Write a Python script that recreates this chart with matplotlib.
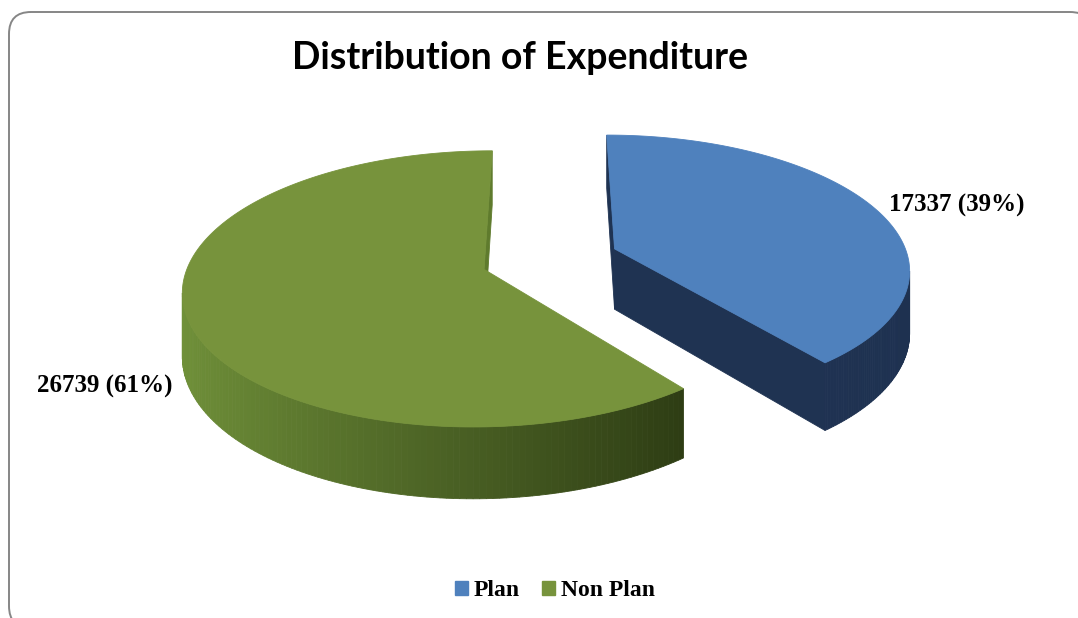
import numpy as np
import matplotlib.pyplot as plt
from matplotlib.patches import Polygon, FancyBboxPatch, Patch

# Expenditure split
labels = ['Plan', 'Non Plan']
values = [17337, 26739]
top_colors = ['#4f81bd', '#77933c']
wall_light = ['#22385a', '#71923a']
wall_dark = ['#1e3150', '#1e290b']
cut_colors = ['#1f3352', '#5f7b2d']
label_pos = [(957, 205), (105, 386)]

W, H = 1078, 618

# 3D pie projection (pixel units)
X0, Y0 = 550, 259
RX, RY = 294, 132.4
PERSP = 0.14
DEPTH = 61
EXPLODE = 0.235


def project(x, z, bottom=False):
    x = np.asarray(x, dtype=float)
    z = np.asarray(z, dtype=float)
    s = 1.0 / (1.0 + PERSP * z)
    px = X0 + RX * x * s
    py = Y0 - RY * z * s
    if bottom:
        py = py + DEPTH * s
    return px, py


def signed_area(pts):
    x, y = pts[:, 0], pts[:, 1]
    return 0.5 * np.sum(x * np.roll(y, -1) - np.roll(x, -1) * y)


def mix(c1, c2, t):
    a = np.array(plt.matplotlib.colors.to_rgb(c1))
    b = np.array(plt.matplotlib.colors.to_rgb(c2))
    return tuple(a + (b - a) * np.clip(t, 0, 1))


def wall(ax, A, B, color):
    # vertical face with top edge A->B; drawn only if facing the viewer
    ax_, az_ = A
    bx_, bz_ = B
    p1 = project(ax_, az_)
    p2 = project(bx_, bz_)
    p3 = project(bx_, bz_, bottom=True)
    p4 = project(ax_, az_, bottom=True)
    pts = np.array([p1, p2, p3, p4])
    if signed_area(pts) >= 0:
        return
    ax.add_patch(Polygon(pts, closed=True, facecolor=color, edgecolor=color, lw=0.6))


fig = plt.figure(figsize=(W / 100, H / 100), dpi=100)
ax = fig.add_axes([0, 0, 1, 1])
ax.set_xlim(0, W)
ax.set_ylim(H, 0)
ax.axis('off')

# chart border
ax.add_patch(FancyBboxPatch((9, 12), 1083, 616, boxstyle='round,pad=0,rounding_size=22',
                            facecolor='white', edgecolor='#868686', lw=1.4))

fracs = np.array(values) / np.sum(values)
bounds = np.concatenate([[0], np.cumsum(fracs)]) * 2 * np.pi

slices = []
for i in range(len(values)):
    a, b = bounds[i], bounds[i + 1]
    mid = (a + b) / 2
    ox, oz = EXPLODE * np.sin(mid), EXPLODE * np.cos(mid)
    slices.append((i, a, b, ox, oz))

# far slices first
for i, a, b, ox, oz in sorted(slices, key=lambda s: -s[4]):
    t = np.linspace(a, b, 200)
    ex, ez = ox + np.sin(t), oz + np.cos(t)

    def shade(nx):
        return mix(wall_light[i], wall_dark[i], (nx + 1) / 2)

    # radial (cut) walls
    wall(ax, (ox, oz), (ox + np.sin(a), oz + np.cos(a)), cut_colors[i])
    wall(ax, (ox + np.sin(b), oz + np.cos(b)), (ox, oz), cut_colors[i])
    # outer curved wall
    for k in range(len(t) - 1):
        tm = (t[k] + t[k + 1]) / 2
        wall(ax, (ex[k], ez[k]), (ex[k + 1], ez[k + 1]), shade(np.sin(tm)))

    # top face
    px, py = project(np.concatenate([[ox], ex]), np.concatenate([[oz], ez]))
    ax.add_patch(Polygon(np.column_stack([px, py]), closed=True,
                         facecolor=top_colors[i], edgecolor=top_colors[i], lw=0.6))

# data labels
for v, f, (lx, ly) in zip(values, fracs, label_pos):
    ax.text(lx, ly, f'{v} ({f:.0%})', ha='center', va='center',
            family='Liberation Serif', weight='bold', fontsize=18, color='black')

ax.text(520, 58, 'Distribution of Expenditure', ha='center', va='center',
        family='Lato', weight='bold', fontsize=27, color='black')

handles = [Patch(facecolor=c, edgecolor=c, label=l) for c, l in zip(top_colors, labels)]
ax.legend(handles=handles, loc='center', bbox_to_anchor=(555 / W, 1 - 591 / H), ncol=2,
          frameon=False, handlelength=0.55, handleheight=0.55, handletextpad=0.25,
          columnspacing=0.95, prop={'family': 'Liberation Serif', 'weight': 'bold', 'size': 17})

fig.savefig('out.png', dpi=100)
